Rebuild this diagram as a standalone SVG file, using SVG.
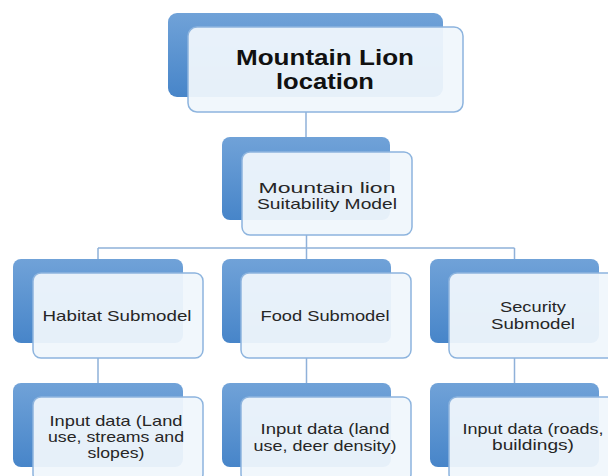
<svg xmlns="http://www.w3.org/2000/svg" width="608" height="476" viewBox="0 0 608 476">
<defs>
<linearGradient id="blueGrad" x1="0" y1="0" x2="0" y2="1">
<stop offset="0" stop-color="#70a2d8"/>
<stop offset="1" stop-color="#4785c9"/>
</linearGradient>
<style>
.back{fill:url(#blueGrad);}
.front{fill:#f0f6fc;fill-opacity:0.94;stroke:#8db4de;stroke-width:1.5;}
.conn{fill:none;stroke:#8fb1d9;stroke-width:1.5;}
.t{font-family:"Liberation Sans",Arial,sans-serif;font-size:14.3px;fill:#262626;text-anchor:middle;}
.tb{font-family:"Liberation Sans",Arial,sans-serif;font-size:21.4px;font-weight:bold;fill:#111;text-anchor:middle;}
</style>
</defs>
<rect width="608" height="476" fill="#ffffff"/>
<g id="connectors">
<path class="conn" d="M306,112 V137"/>
<path class="conn" d="M306.5,235 V248 M98,248 H514.5 M98,248 V259 M306.5,248 V259 M514.5,248 V259"/>
<path class="conn" d="M98,358 V383 M306.5,358 V383 M514.5,358 V383"/>
</g>
<g id="node-top">
<rect class="back" x="168" y="13" width="275" height="84" rx="9"/>
<rect class="front" x="188" y="27" width="275" height="85" rx="9"/>
<text class="tb" x="325" y="65" textLength="178" lengthAdjust="spacingAndGlyphs">Mountain Lion</text>
<text class="tb" x="325" y="89" textLength="98" lengthAdjust="spacingAndGlyphs">location</text>
</g>
<g id="node-model">
<rect class="back" x="222" y="137" width="168" height="83" rx="8"/>
<rect class="front" x="242" y="152" width="170" height="83" rx="8"/>
<text class="t" x="327" y="193" textLength="137" lengthAdjust="spacingAndGlyphs">Mountain lion</text>
<text class="t" x="327" y="209" textLength="140" lengthAdjust="spacingAndGlyphs">Suitability Model</text>
</g>
<g id="node-habitat">
<rect class="back" x="13" y="259" width="170" height="84" rx="8"/>
<rect class="front" x="33" y="273" width="170" height="85" rx="8"/>
<text class="t" x="117" y="321" textLength="149" lengthAdjust="spacingAndGlyphs">Habitat Submodel</text>
</g>
<g id="node-food">
<rect class="back" x="222" y="259" width="169" height="84" rx="8"/>
<rect class="front" x="241" y="273" width="170" height="85" rx="8"/>
<text class="t" x="325" y="321" textLength="129" lengthAdjust="spacingAndGlyphs">Food Submodel</text>
</g>
<g id="node-security">
<rect class="back" x="430" y="259" width="169" height="84" rx="8"/>
<rect class="front" x="449" y="273" width="170" height="85" rx="8"/>
<text class="t" x="533" y="312" textLength="66" lengthAdjust="spacingAndGlyphs">Security</text>
<text class="t" x="533" y="329" textLength="84" lengthAdjust="spacingAndGlyphs">Submodel</text>
</g>
<g id="node-habitat-input">
<rect class="back" x="13" y="383" width="170" height="84" rx="8"/>
<rect class="front" x="33" y="397" width="170" height="85" rx="8"/>
<text class="t" x="116" y="426" textLength="133" lengthAdjust="spacingAndGlyphs">Input data (Land</text>
<text class="t" x="116" y="442" textLength="136" lengthAdjust="spacingAndGlyphs">use, streams and</text>
<text class="t" x="116" y="458" textLength="57" lengthAdjust="spacingAndGlyphs">slopes)</text>
</g>
<g id="node-food-input">
<rect class="back" x="222" y="383" width="169" height="84" rx="8"/>
<rect class="front" x="241" y="397" width="170" height="85" rx="8"/>
<text class="t" x="325" y="434" textLength="129" lengthAdjust="spacingAndGlyphs">Input data (land</text>
<text class="t" x="325" y="451" textLength="143" lengthAdjust="spacingAndGlyphs">use, deer density)</text>
</g>
<g id="node-security-input">
<rect class="back" x="430" y="383" width="169" height="84" rx="8"/>
<rect class="front" x="449" y="397" width="170" height="85" rx="8"/>
<text class="t" x="533" y="434" textLength="141" lengthAdjust="spacingAndGlyphs">Input data (roads,</text>
<text class="t" x="533" y="450" textLength="82" lengthAdjust="spacingAndGlyphs">buildings)</text>
</g>
</svg>
